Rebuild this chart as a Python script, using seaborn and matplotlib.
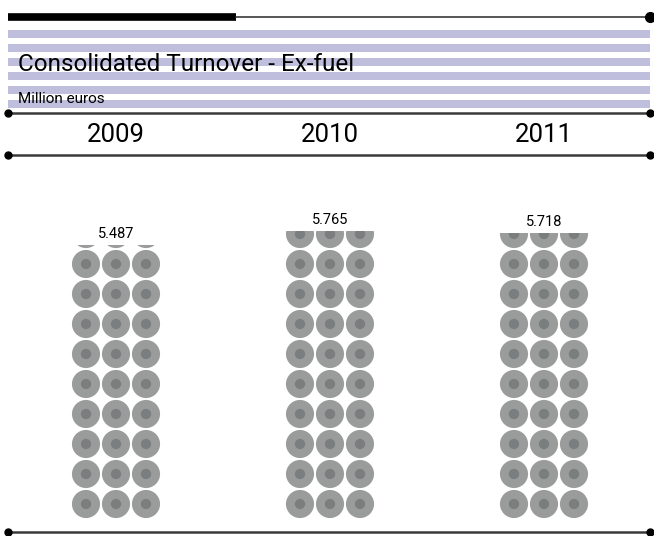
import numpy as np
import pandas as pd
import matplotlib
matplotlib.use("Agg")
import matplotlib.pyplot as plt
from matplotlib.patches import Rectangle
import seaborn as sns

### chart data
years = ["2009", "2010", "2011"]
values = [5487, 5765, 5718]
value_labels = ["5.487", "5.765", "5.718"]
title = "Consolidated Turnover - Ex-fuel"
subtitle = "Million euros"
unit_per_row = 600      # one row of three circles
icons_per_row = 3

sns.set_theme(style="white")
plt.rcParams['font.family'] = ['Roboto', 'DejaVu Sans']

W, H = 654, 536
fig = plt.figure(figsize=(W / 100, H / 100), dpi=100)
ax = fig.add_axes([0, 0, 1, 1])
ax.set_xlim(0, W)
ax.set_ylim(H, 0)
ax.axis("off")

line_col = "#3a3a3a"
x0, x1 = 8, 650

### header stripes
for k in range(6):
    ax.add_patch(Rectangle((x0, 30 + 14 * k), x1 - x0, 7.5, color="#bfbedd", lw=0, zorder=1))

# top black bar + thin line
ax.plot([x0, 236], [17, 17], color="black", lw=5.5, solid_capstyle="butt", zorder=3)
ax.plot([236, x1], [17, 17], color=line_col, lw=1.2, zorder=3)
ax.plot([x1], [17], "o", color="black", ms=7, zorder=4)

ax.text(18, 71, title, fontsize=17.5, color="black", va="baseline", ha="left", zorder=5)
ax.text(18, 103, subtitle, fontsize=11, color="black", va="baseline", ha="left", zorder=5)


def rule(y):
    ax.plot([x0, x1], [y, y], color=line_col, lw=1.8, zorder=3)
    ax.plot([x0, x1], [y, y], "o", color="black", ms=5, zorder=4)


rule(113)
rule(155)
rule(532)

### pictogram columns
col_centers = [116, 330, 544]
cell = 30
base = 519

for i, yr in enumerate(years):
    ax.text(col_centers[i], 135, yr, fontsize=18.5, ha="center", va="center", color="black")

    n_rows = values[i] / unit_per_row
    full = int(np.ceil(n_rows))
    rows = []
    for r in range(full):
        for c in range(icons_per_row):
            rows.append({"x": col_centers[i] + (c - 1) * cell,
                         "y": base - (r + 0.5) * cell})
    df = pd.DataFrame(rows)

    cut = base - n_rows * cell
    clip = Rectangle((col_centers[i] - 2 * cell, cut), 4 * cell, base - cut + 5,
                     transform=ax.transData, fill=False, lw=0)
    ax.add_patch(clip)

    n_before = len(ax.collections)
    sns.scatterplot(data=df, x="x", y="y", s=410, color="#9a9c9c", edgecolor="none",
                    linewidth=0, ax=ax, legend=False, zorder=2)
    sns.scatterplot(data=df, x="x", y="y", s=55, color="#7a7e7e", edgecolor="none",
                    linewidth=0, ax=ax, legend=False, zorder=2)
    for coll in ax.collections[n_before:]:
        coll.set_clip_path(clip)

    ax.text(col_centers[i], cut - 4, value_labels[i], fontsize=10.5, ha="center",
            va="bottom", color="black")

ax.set_xlim(0, W)
ax.set_ylim(H, 0)
ax.set_xlabel("")
ax.set_ylabel("")

plt.savefig("out.png", dpi=100)
